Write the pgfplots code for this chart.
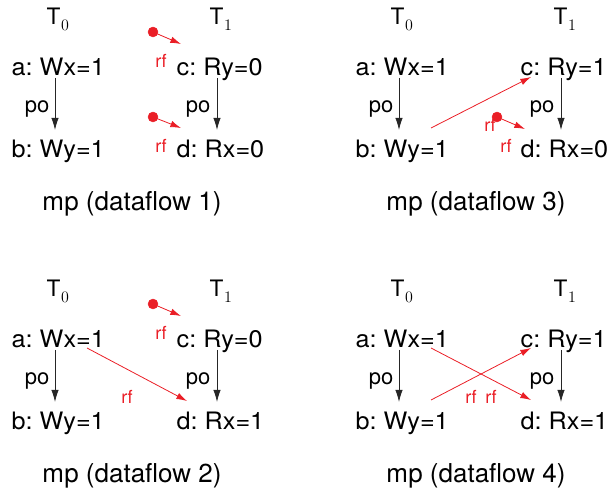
\documentclass[border=0pt]{standalone}
\usepackage{pgfplots}
\pgfplotsset{compat=1.18}
\usepackage{fontspec}
\setmainfont{TeX Gyre Heros}
\usetikzlibrary{arrows.meta}
\frenchspacing
\definecolor{rfred}{RGB}{234,30,38}
\newcommand\lab[1]{\scalebox{1.05}[1]{\fontsize{18}{21}\selectfont #1}}
\newcommand\capt[1]{\fontsize{19.5}{23}\selectfont #1}
\newcommand\thr[1]{\fontsize{17}{20}\selectfont T\kern0.5pt\raisebox{-4.5pt}{\fontsize{13}{13}\selectfont$#1$}}
\newcommand\po{\fontsize{16.5}{19}\selectfont po}
\newcommand\rf{\fontsize{13.5}{15}\selectfont rf}
\begin{document}
\sbox0{\thr{0}\thr{1}\lab{a}\capt{m}\po\rf}%
\begin{tikzpicture}
\begin{axis}[
    width=455.25pt, height=368.25pt, scale only axis,
    xmin=0, xmax=607, ymin=0, ymax=491, y dir=reverse,
    hide axis, clip=false,
    poarrow/.style={black!85, line width=0.6pt, -{Latex[length=9pt,width=5.5pt]}},
    rfarrow/.style={rfred, line width=0.6pt, -{Latex[length=8pt,width=5pt]}},
    rfdot/.style={only marks, mark=*, mark size=3.7pt, rfred},
    every node/.style={inner sep=0pt},
]
\coordinate (ll) at (axis cs:0,491);
\coordinate (ur) at (axis cs:607,0);

% ---- po edges (all four panels)
\addplot[poarrow] coordinates {(55,78)(55,130)};
\addplot[poarrow] coordinates {(217,78)(217,130)};
\addplot[poarrow] coordinates {(399,78)(399,130)};
\addplot[poarrow] coordinates {(561,78)(561,130)};
\addplot[poarrow] coordinates {(55,350)(55,402)};
\addplot[poarrow] coordinates {(217,350)(217,402)};
\addplot[poarrow] coordinates {(399,350)(399,402)};
\addplot[poarrow] coordinates {(561,350)(561,402)};

% ---- rf from initial state (dots)
\addplot[rfdot] coordinates {(153,32)(153,117)(497,117)(153,304)};
\addplot[rfarrow] coordinates {(153,32)(181,44)};
\addplot[rfarrow] coordinates {(153,117)(181,128)};
\addplot[rfarrow] coordinates {(497,117)(525,129)};
\addplot[rfarrow] coordinates {(153,304)(181,316)};

% ---- rf between threads
\addplot[rfarrow] coordinates {(431,128)(531,77)};
\addplot[rfarrow] coordinates {(87,348)(187,401)};
\addplot[rfarrow] coordinates {(431,348)(531,400)};
\addplot[rfarrow] coordinates {(431,400)(531,348)};

% ---- thread headers
\node[anchor=base west] at (axis cs:42,25)  {\thr{0}};
\node[anchor=base west] at (axis cs:205,25) {\thr{1}};
\node[anchor=base west] at (axis cs:386,25) {\thr{0}};
\node[anchor=base west] at (axis cs:549,25) {\thr{1}};
\node[anchor=base west] at (axis cs:42,297) {\thr{0}};
\node[anchor=base west] at (axis cs:205,297){\thr{1}};
\node[anchor=base west] at (axis cs:386,297){\thr{0}};
\node[anchor=base west] at (axis cs:549,297){\thr{1}};

% ---- events
\node[anchor=base west] at (axis cs:7,76)   {\lab{a: Wx=1}};
\node[anchor=base west] at (axis cs:172,76) {\lab{c: Ry=0}};
\node[anchor=base west] at (axis cs:7,158)  {\lab{b: Wy=1}};
\node[anchor=base west] at (axis cs:172,158){\lab{d: Rx=0}};

\node[anchor=base west] at (axis cs:351,76) {\lab{a: Wx=1}};
\node[anchor=base west] at (axis cs:516,76) {\lab{c: Ry=1}};
\node[anchor=base west] at (axis cs:351,158){\lab{b: Wy=1}};
\node[anchor=base west] at (axis cs:516,158){\lab{d: Rx=0}};

\node[anchor=base west] at (axis cs:7,348)  {\lab{a: Wx=1}};
\node[anchor=base west] at (axis cs:172,348){\lab{c: Ry=0}};
\node[anchor=base west] at (axis cs:7,430)  {\lab{b: Wy=1}};
\node[anchor=base west] at (axis cs:172,430){\lab{d: Rx=1}};

\node[anchor=base west] at (axis cs:351,348){\lab{a: Wx=1}};
\node[anchor=base west] at (axis cs:516,348){\lab{c: Ry=1}};
\node[anchor=base west] at (axis cs:351,430){\lab{b: Wy=1}};
\node[anchor=base west] at (axis cs:516,430){\lab{d: Rx=1}};

% ---- po labels
\node[anchor=base] at (axis cs:37,113)  {\po};
\node[anchor=base] at (axis cs:198,113) {\po};
\node[anchor=base] at (axis cs:381,113) {\po};
\node[anchor=base] at (axis cs:542,113) {\po};
\node[anchor=base] at (axis cs:37,385)  {\po};
\node[anchor=base] at (axis cs:198,385) {\po};
\node[anchor=base] at (axis cs:381,385) {\po};
\node[anchor=base] at (axis cs:542,385) {\po};

% ---- rf labels
\node[anchor=base, text=rfred] at (axis cs:161,68)  {\rf};
\node[anchor=base, text=rfred] at (axis cs:161,153) {\rf};
\node[anchor=base, text=rfred] at (axis cs:490,132) {\rf};
\node[anchor=base, text=rfred] at (axis cs:506,153) {\rf};
\node[anchor=base, text=rfred] at (axis cs:161,340) {\rf};
\node[anchor=base, text=rfred] at (axis cs:127,404) {\rf};
\node[anchor=base, text=rfred] at (axis cs:471,404) {\rf};
\node[anchor=base, text=rfred] at (axis cs:491,404) {\rf};

% ---- captions
\node[anchor=base] at (axis cs:132,211) {\capt{mp (dataflow 1)}};
\node[anchor=base] at (axis cs:476,211) {\capt{mp (dataflow 3)}};
\node[anchor=base] at (axis cs:132,483) {\capt{mp (dataflow 2)}};
\node[anchor=base] at (axis cs:476,483) {\capt{mp (dataflow 4)}};
\end{axis}
\pgfresetboundingbox
\useasboundingbox (ll) rectangle (ur);
\end{tikzpicture}
\end{document}
